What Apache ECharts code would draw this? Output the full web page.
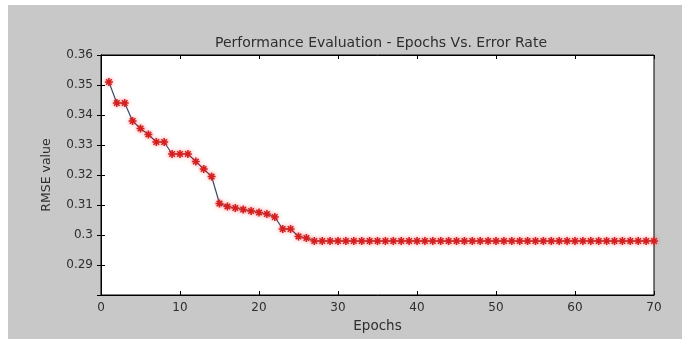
<!DOCTYPE html>
<html>
<head>
<meta charset="utf-8">
<script src="https://cdn.jsdelivr.net/npm/echarts@6/dist/echarts.min.js"></script>
<style>
  html, body { margin: 0; padding: 0; background: #fff; }
  #chart { width: 685px; height: 342px; }
</style>
</head>
<body>
<div id="chart"></div>
<script>
  // epochs 1..70 and the RMSE
  var epochs = [];
  for (var e = 1; e <= 70; e++) epochs.push(e);
  var rmse = [
    0.351, 0.344, 0.344, 0.338, 0.3355, 0.3335, 0.331, 0.331, 0.327, 0.327,
    0.327, 0.3245, 0.322, 0.3195, 0.3105, 0.3095, 0.309, 0.3085, 0.308, 0.3075,
    0.307, 0.306, 0.302, 0.302, 0.2995, 0.299, 0.298, 0.298, 0.298, 0.298,
    0.298, 0.298, 0.298, 0.298, 0.298, 0.298, 0.298, 0.298, 0.298, 0.298,
    0.298, 0.298, 0.298, 0.298, 0.298, 0.298, 0.298, 0.298, 0.298, 0.298,
    0.298, 0.298, 0.298, 0.298, 0.298, 0.298, 0.298, 0.298, 0.298, 0.298,
    0.298, 0.298, 0.298, 0.298, 0.298, 0.298, 0.298, 0.298, 0.298, 0.298
  ];
  var xMin = 0, xMax = 70, xStep = 10;
  var yMin = 0.28, yMax = 0.36, yStep = 0.01;

  var font = "DejaVu Sans";
  var txt = "#2e2e2e";

  var mychart = echarts.init(document.getElementById("chart"));

  var star = "path://M0,5L10,5M5,0L5,10M1.5,1.5L8.5,8.5M8.5,1.5L1.5,8.5";

  var hiddenAxis = {
    axisLine: { show: true, lineStyle: { color: "#000", width: 1 } },
    axisTick: { show: true, inside: true, length: 4, lineStyle: { color: "#000" } },
    axisLabel: { show: false },
    splitLine: { show: false }
  };

  var option = {
    animation: false,
    backgroundColor: "#fff",
    graphic: [
      {
        type: "rect",
        z: -10,
        shape: { x: 8, y: 5, width: 674, height: 334 },
        style: { fill: "#c8c8c8" }
      }
    ],
    title: {
      text: "Performance Evaluation - Epochs Vs. Error Rate",
      left: 376,
      textAlign: "center",
      top: 31,
      textStyle: { color: txt, fontFamily: font, fontSize: 14, fontWeight: "normal" }
    },
    grid: {
      left: 101,
      top: 55,
      right: 31,
      bottom: 47,
      show: true,
      backgroundColor: "#fff",
      borderColor: "#000",
      borderWidth: 1
    },
    xAxis: [
      {
        type: "value",
        min: xMin, max: xMax, interval: xStep,
        name: "Epochs",
        nameLocation: "middle",
        nameGap: 24,
        nameTextStyle: { color: txt, fontFamily: font, fontSize: 13.5 },
        axisLine: { show: true, lineStyle: { color: "#000", width: 1 } },
        axisTick: { show: true, inside: true, length: 4, lineStyle: { color: "#000" } },
        axisLabel: { color: txt, fontFamily: font, fontSize: 12, margin: 7 },
        splitLine: { show: false }
      },
      Object.assign({ type: "value", position: "top", min: xMin, max: xMax, interval: xStep }, hiddenAxis)
    ],
    yAxis: [
      {
        type: "value",
        min: yMin, max: yMax, interval: yStep,
        name: "RMSE value",
        nameLocation: "middle",
        nameGap: 48,
        nameTextStyle: { color: txt, fontFamily: font, fontSize: 12.5 },
        axisLine: { show: true, lineStyle: { color: "#000", width: 1 } },
        axisTick: { show: true, inside: true, length: 4, lineStyle: { color: "#000" } },
        axisLabel: {
          color: txt, fontFamily: font, fontSize: 12, margin: 8,
          formatter: function (v) {
            if (Math.abs(v - yMin) < 1e-9) return "";
            return String(parseFloat(v.toFixed(2)));
          }
        },
        splitLine: { show: false }
      },
      Object.assign({ type: "value", position: "right", min: yMin, max: yMax, interval: yStep }, hiddenAxis)
    ],
    series: [
      {
        type: "line",
        data: epochs.map(function (x, i) { return [x, rmse[i]]; }),
        lineStyle: { color: "#3a4a6a", width: 1.2 },
        symbol: star,
        symbolSize: 8,
        showAllSymbol: true,
        itemStyle: {
          color: "rgba(0,0,0,0)",
          borderColor: "#d42020",
          borderWidth: 1.6,
          shadowColor: "rgba(255,60,60,0.6)",
          shadowBlur: 4
        },
        emphasis: { disabled: true }
      }
    ]
  };

  mychart.setOption(option);
</script>
</body>
</html>
